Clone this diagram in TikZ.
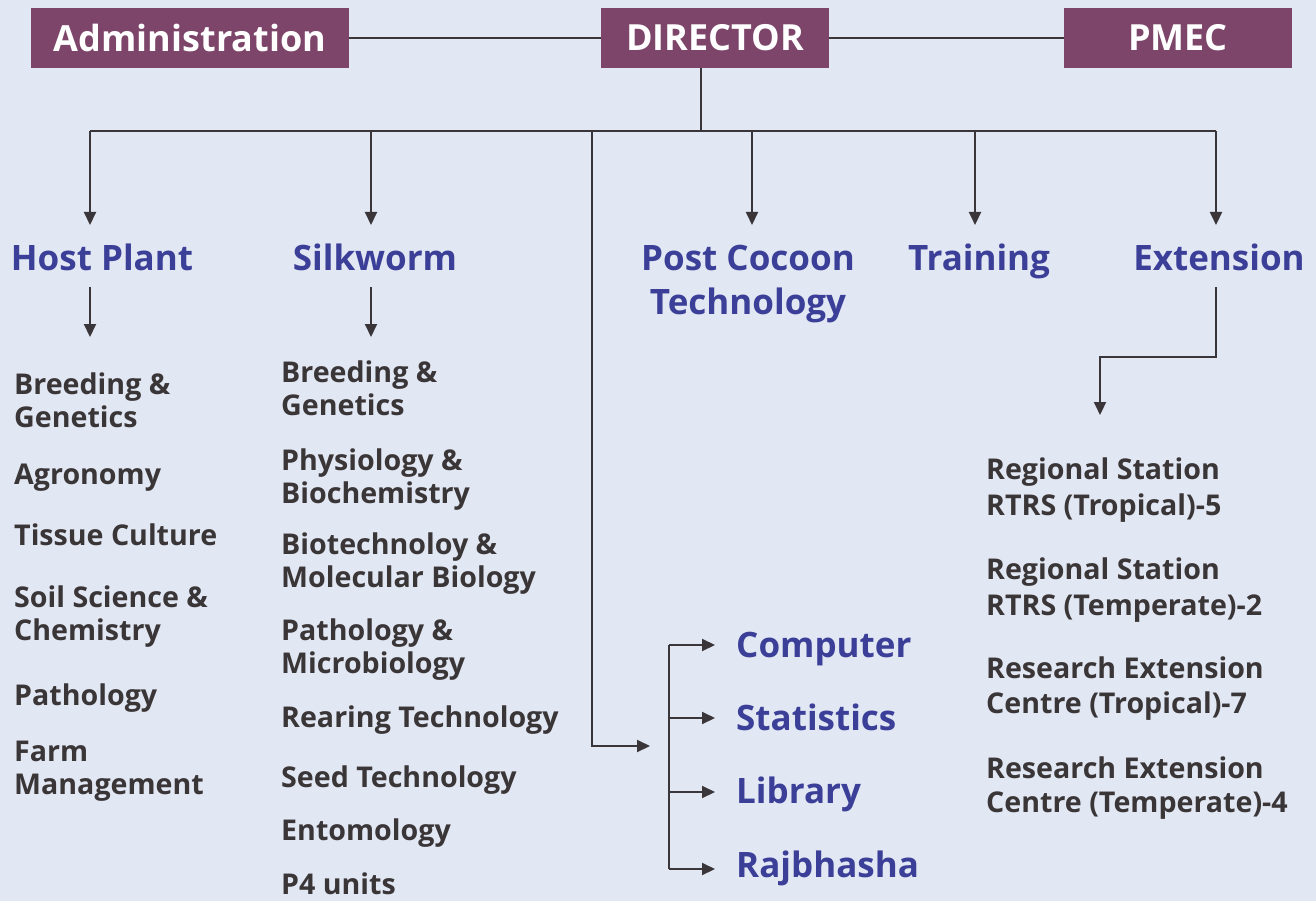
\documentclass[tikz,border=0pt]{standalone}
\usepackage{fontspec}
\setmainfont{Open Sans}
\usetikzlibrary{arrows.meta}

\definecolor{bgblue}{HTML}{E1E7F3}
\definecolor{boxpurple}{HTML}{7D4569}
\definecolor{headblue}{HTML}{3B3F98}
\definecolor{itemgray}{HTML}{3A3536}
\definecolor{linegray}{HTML}{3A3538}

\tikzset{
  topbox/.style={fill=boxpurple, text=white, font=\bfseries\fontsize{36}{44}\selectfont,
    minimum height=60pt, inner sep=0pt},
  headtext/.style={text=headblue, font=\bfseries\fontsize{35}{44}\selectfont, align=center, inner sep=0pt},
  itemtext/.style={text=itemgray, font=\bfseries\fontsize{28.6}{33}\selectfont, align=left,
    anchor=west, inner sep=0pt},
  conn/.style={draw=linegray, line width=2pt},
  arr/.style={conn, -{Triangle[length=13pt,width=12pt]}}
}

\begin{document}
\begin{tikzpicture}[x=1pt, y=-1pt]
  \fill[bgblue] (0,0) rectangle (1316,901);
  \useasboundingbox (0,0) rectangle (1316,901);

  % top row
  \node[topbox, minimum width=318pt] (admin) at (190,38) {Administration};
  \node[topbox, minimum width=228pt] (director) at (715,38) {DIRECTOR};
  \node[topbox, minimum width=228pt] (pmec) at (1178,38) {PMEC};
  \draw[conn] (admin) -- (director);
  \draw[conn] (director) -- (pmec);

  % divisions
  \node[headtext, anchor=base] (hostplant) at (102,270) {Host Plant};
  \node[headtext, anchor=base] (silkworm) at (375,270) {Silkworm};
  \node[headtext] (postcocoon) at (748,284) {Post Cocoon\\Technology};
  \node[headtext, anchor=base] (training) at (979,270) {Training};
  \node[headtext, anchor=base] (extension) at (1219,270) {Extension};

  % bus from director
  \coordinate (bushp) at (90,131);
  \coordinate (busext) at (1216,131);
  \draw[conn] ([xshift=-14pt]director.south) -- (701,131) coordinate (busdir);
  \draw[conn] (bushp) -- (busext);
  \draw[arr] (bushp) -- (90,225);
  \draw[arr] (371,131) -- (371,225);
  \draw[arr] (752,131) -- (752,225);
  \draw[arr] (975,131) -- (975,225);
  \draw[arr] (busext) -- (1216,225);

  % support units
  \coordinate (supin) at (650,746);
  \draw[arr] (592,131) |- (supin);
  \node[headtext, anchor=base west] (computer) at (736,657) {Computer};
  \node[headtext, anchor=base west] (statistics) at (736,730) {Statistics};
  \node[headtext, anchor=base west] (library) at (736,803) {Library};
  \node[headtext, anchor=base west] (rajbhasha) at (736,877) {Rajbhasha};
  \coordinate (brtop) at (669,645);
  \coordinate (brbot) at (669,869);
  \draw[conn] (brtop) -- (brbot);
  \draw[arr] (brtop) -- (715,645);
  \draw[arr] (669,718) -- (715,718);
  \draw[arr] (669,792) -- (715,792);
  \draw[arr] (brbot) -- (715,869);

  % host plant sections
  \draw[arr] (90,287) -- (90,337);
  \node[itemtext] (hpbreed) at (14,400) {Breeding \&\\Genetics};
  \node[itemtext] (hpagro) at (14,478) {Agronomy};
  \node[itemtext] (hptissue) at (14,535) {Tissue Culture};
  \node[itemtext] (hpsoil) at (14,617) {Soil Science \&\\Chemistry};
  \node[itemtext] (hppath) at (14,698) {Pathology};
  \node[itemtext] (hpfarm) at (14,771) {Farm\\Management};

  % silkworm sections
  \draw[arr] (371,287) -- (371,337);
  \node[itemtext] (swbreed) at (281,388) {Breeding \&\\Genetics};
  \node[itemtext] (swphys) at (281,480) {Physiology \&\\Biochemistry};
  \node[itemtext] (swbiotech) at (281,564) {Biotechnoloy \&\\Molecular Biology};
  \node[itemtext] (swpath) at (281,650) {Pathology \&\\Microbiology};
  \node[itemtext] (swrear) at (281,720) {Rearing Technology};
  \node[itemtext] (swseed) at (281,780) {Seed Technology};
  \node[itemtext] (swento) at (281,833) {Entomology};
  \node[itemtext] (swpfour) at (281,884) {P4 units};

  % extension stations
  \draw[arr] (1216,287) |- (1100,357) -- (1100,415);
  \node[itemtext] (rsrtrop) at (986,490) {Regional Station\\[3pt]RTRS (Tropical)-5};
  \node[itemtext] (rsrtemp) at (986,590) {Regional Station\\[3pt]RTRS (Temperate)-2};
  \node[itemtext] (rectrop) at (986,689) {Research Extension\\[2pt]Centre (Tropical)-7};
  \node[itemtext] (rectemp) at (986,788) {Research Extension\\[1pt]Centre (Temperate)-4};
\end{tikzpicture}
\end{document}
